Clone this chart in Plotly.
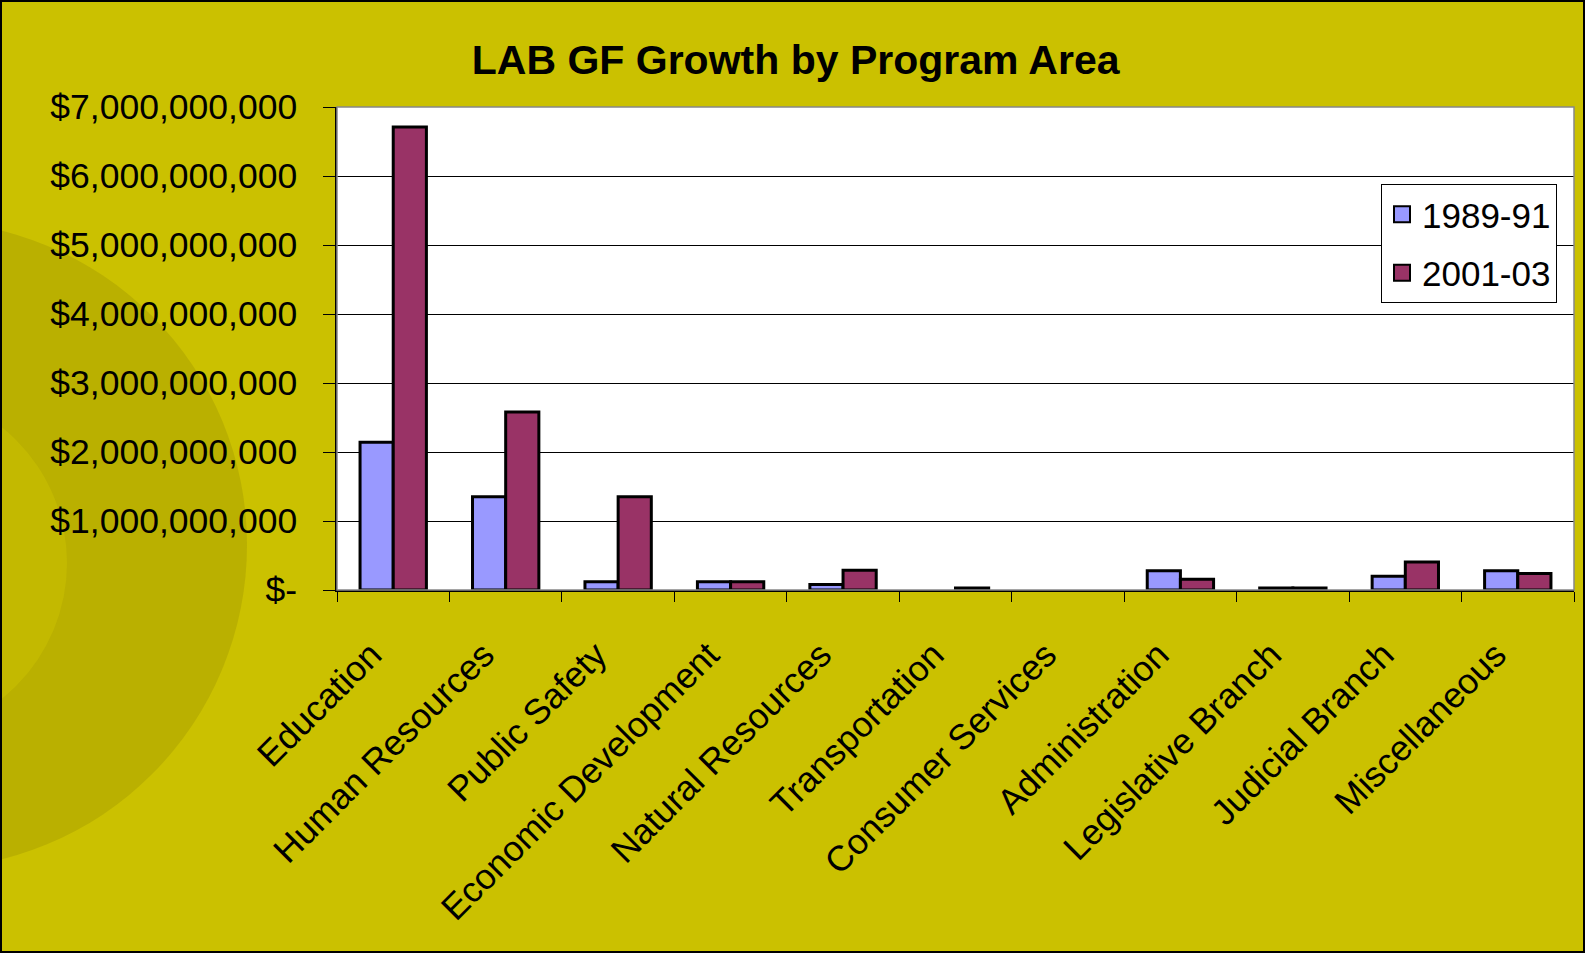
import plotly.graph_objects as go

# --- data ---
programs = [
    "Education", "Human Resources", "Public Safety", "Economic Development",
    "Natural Resources", "Transportation", "Consumer Services", "Administration",
    "Legislative Branch", "Judicial Branch", "Miscellaneous",
]
gf_1989_91 = [2.14e9, 1.35e9, 0.12e9, 0.12e9, 0.08e9, 0.0, 0.0, 0.28e9, 0.03e9, 0.20e9, 0.28e9]
gf_2001_03 = [6.71e9, 2.58e9, 1.35e9, 0.12e9, 0.285e9, 0.03e9, 0.0, 0.155e9, 0.03e9, 0.405e9, 0.24e9]

y_tickvals = [0, 1e9, 2e9, 3e9, 4e9, 5e9, 6e9, 7e9]
y_ticktext = ["$-", "$1,000,000,000", "$2,000,000,000", "$3,000,000,000",
              "$4,000,000,000", "$5,000,000,000", "$6,000,000,000", "$7,000,000,000"]

BG = "#CBC100"
FONT = "Liberation Sans, Arial, sans-serif"
C89, C01 = "#9999FF", "#993366"

W, H = 1585, 953
L, R, T, B = 337, 11, 107, 363
pw, ph = W - L - R, H - T - B


def px_x(x):
    return (x - L) / pw


def px_y(y):
    return (T + ph - y) / ph


def outline(vals):
    # no outline for empty bars
    return [3 if v > 0 else 0 for v in vals]


fig = go.Figure()
fig.add_trace(go.Bar(x=programs, y=gf_1989_91, name="1989-91", showlegend=False,
                     marker=dict(color=C89, line=dict(color="black", width=outline(gf_1989_91)))))
fig.add_trace(go.Bar(x=programs, y=gf_2001_03, name="2001-03", showlegend=False,
                     marker=dict(color=C01, line=dict(color="black", width=outline(gf_2001_03)))))
# legend entries with larger square swatches
for nm, col, grp in [("1989-91", C89, "a"), ("2001-03", C01, "b")]:
    fig.add_trace(go.Scatter(x=[None], y=[None], mode="markers", name=nm, legendgroup=grp,
                             marker=dict(symbol="square", size=19, color=col,
                                         line=dict(color="black", width=2))))

# faint coin in the background (left side)
fig.add_shape(type="circle", xref="paper", yref="paper", layer="below",
              x0=px_x(-77 - 324), x1=px_x(-77 + 324), y0=px_y(545 + 324), y1=px_y(545 - 324),
              fillcolor="rgba(120,110,0,0.2)", line=dict(width=0))
fig.add_shape(type="circle", xref="paper", yref="paper", layer="below",
              x0=px_x(-107 - 174), x1=px_x(-107 + 174), y0=px_y(563 + 174), y1=px_y(563 - 174),
              fillcolor="rgba(203,193,0,0.55)", line=dict(width=0))
# white plot area on top of the coin
fig.add_shape(type="rect", xref="paper", yref="paper", layer="below", x0=0, x1=1, y0=0, y1=1,
              fillcolor="white", line=dict(width=0))
# plot frame
fig.add_shape(type="rect", xref="paper", yref="paper", x0=0, x1=1, y0=0, y1=1,
              line=dict(color="#888888", width=1.5), layer="above")
# outer border of the picture
fig.add_shape(type="rect", xref="paper", yref="paper",
              x0=px_x(1), x1=px_x(W - 1), y0=px_y(H - 1), y1=px_y(1),
              line=dict(color="black", width=2))

fig.update_layout(
    width=W, height=H,
    margin=dict(l=L, r=R, t=T, b=B, autoexpand=False),
    paper_bgcolor=BG, plot_bgcolor="rgba(0,0,0,0)",
    font=dict(family=FONT, color="black", size=35),
    title=dict(text="<b>LAB GF Growth by Program Area</b>", x=0.502, xanchor="center",
               y=1 - 60 / H, yanchor="middle", yref="container",
               font=dict(family=FONT, size=41, color="black")),
    barmode="group", bargap=0.41, bargroupgap=0,
    showlegend=True,
    legend=dict(x=px_x(1381), y=px_y(184), xanchor="left", yanchor="top",
                bgcolor="white", bordercolor="black", borderwidth=1,
                font=dict(size=35), traceorder="grouped", tracegroupgap=10),
    xaxis=dict(type="category", tickangle=-45, tickson="boundaries", ticks="outside",
               ticklen=10, tickcolor="black", showline=True, linecolor="black",
               linewidth=1.5, tickfont=dict(size=35.5), ticklabelstandoff=28,
               ticklabelshift=-22, showgrid=False),
    yaxis=dict(range=[0, 7e9], tickvals=y_tickvals, ticktext=y_ticktext,
               ticks="outside", ticklen=12, tickcolor="black", showline=True,
               linecolor="black", linewidth=1.5, showgrid=True, gridcolor="black",
               gridwidth=1, zeroline=False, tickfont=dict(size=35.5), ticklabelstandoff=19),
)

fig.write_html("out.html", config={"displayModeBar": False},
               post_script="document.body.style.margin='0';")
